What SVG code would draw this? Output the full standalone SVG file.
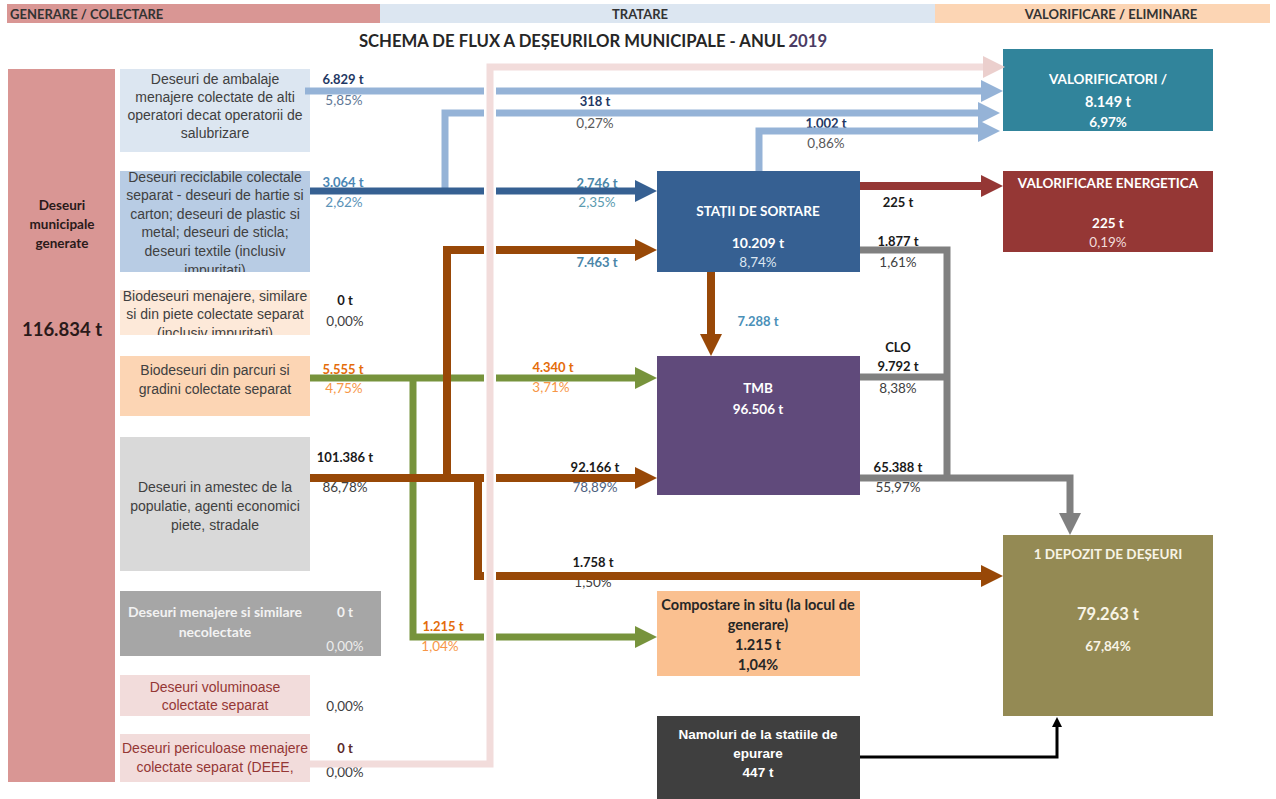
<svg xmlns="http://www.w3.org/2000/svg" width="1276" height="799" viewBox="0 0 1276 799">
  <style>
    .hdr { font-family: Lato, "Open Sans", sans-serif; font-weight: 700; font-size: 13px; fill: #333333; }
    .title { font-family: Lato, "Open Sans", sans-serif; font-weight: 700; font-size: 16.7px; fill: #262626; }
    .src { font-family: "Liberation Sans", Arial, sans-serif; font-size: 14px; fill: #404040; text-anchor: middle; }
    .srcR { font-family: "Liberation Sans", Arial, sans-serif; font-size: 14px; fill: #953735; text-anchor: middle; }
    .lb { font-family: Lato, "Open Sans", sans-serif; font-weight: 700; font-size: 13px; text-anchor: middle; fill: #1a1a1a; }
    .lp { font-family: Lato, "Open Sans", sans-serif; font-size: 13.5px; text-anchor: middle; fill: #404040; }
    .wb { font-family: Lato, "Open Sans", sans-serif; font-weight: 700; font-size: 13.5px; fill: #ffffff; text-anchor: middle; }
    .ar { font-family: "Liberation Sans", Arial, sans-serif; }
    .flow { fill: none; stroke-linejoin: miter; stroke-linecap: butt; }
    .lblue { stroke: #95B3D7; stroke-width: 7; }
    .dblue { stroke: #366092; stroke-width: 7; }
    .brown { stroke: #984807; stroke-width: 8; }
    .green { stroke: #77933C; stroke-width: 7; }
    .gray { stroke: #808080; stroke-width: 7; }
    .red { stroke: #953735; stroke-width: 8; }
    .pink { stroke: #F2DCDB; stroke-width: 7; }
    .halo { stroke: #ffffff; stroke-width: 12; }
  </style>
  <defs>
    <marker id="ahLBlue" markerUnits="userSpaceOnUse" viewBox="0 0 22 22" refX="1" refY="11" markerWidth="22" markerHeight="22" orient="auto"><path d="M0,0 L22,11 L0,22 z" fill="#95B3D7"/></marker>
    <marker id="ahPink" markerUnits="userSpaceOnUse" viewBox="0 0 22 22" refX="1" refY="11" markerWidth="22" markerHeight="22" orient="auto"><path d="M0,0 L22,11 L0,22 z" fill="#EBCFCD"/></marker>
    <marker id="ahDBlue" markerUnits="userSpaceOnUse" viewBox="0 0 22 22" refX="1" refY="11" markerWidth="22" markerHeight="22" orient="auto"><path d="M0,0 L22,11 L0,22 z" fill="#366092"/></marker>
    <marker id="ahBrown" markerUnits="userSpaceOnUse" viewBox="0 0 22 22" refX="1" refY="11" markerWidth="22" markerHeight="22" orient="auto"><path d="M0,0 L22,11 L0,22 z" fill="#984807"/></marker>
    <marker id="ahGreen" markerUnits="userSpaceOnUse" viewBox="0 0 22 22" refX="1" refY="11" markerWidth="22" markerHeight="22" orient="auto"><path d="M0,0 L22,11 L0,22 z" fill="#77933C"/></marker>
    <marker id="ahGray" markerUnits="userSpaceOnUse" viewBox="0 0 22 22" refX="1" refY="11" markerWidth="22" markerHeight="22" orient="auto"><path d="M0,0 L22,11 L0,22 z" fill="#808080"/></marker>
    <marker id="ahRed" markerUnits="userSpaceOnUse" viewBox="0 0 22 22" refX="1" refY="11" markerWidth="22" markerHeight="22" orient="auto"><path d="M0,0 L22,11 L0,22 z" fill="#953735"/></marker>
    <marker id="ahBlack" markerUnits="userSpaceOnUse" viewBox="0 0 10 10" refX="1" refY="5" markerWidth="10" markerHeight="10" orient="auto"><path d="M0,0 L10,5 L0,10 z" fill="#000000"/></marker>
    <clipPath id="clipRecycl"><rect x="120" y="171" width="190" height="101"/></clipPath>
    <clipPath id="clipBio"><rect x="120" y="290" width="190" height="45"/></clipPath>
  </defs>

  <rect width="1276" height="799" fill="#ffffff"/>

  <!-- column headers and title -->
  <g id="headers">
    <rect x="7" y="4" width="373" height="19" fill="#D99694"/>
    <rect x="380" y="4" width="555" height="19" fill="#DCE6F1"/>
    <rect x="935" y="4" width="335" height="19" fill="#FCD5B4"/>
    <text class="hdr" x="10" y="19">GENERARE / COLECTARE</text>
    <text class="hdr" x="640" y="19" text-anchor="middle">TRATARE</text>
    <text class="hdr" x="1111" y="19" text-anchor="middle">VALORIFICARE / ELIMINARE</text>
    <text class="title" x="593" y="47" text-anchor="middle">SCHEMA DE FLUX A DEȘEURILOR MUNICIPALE - ANUL <tspan style="fill:#4B3B63">2019</tspan></text>
  </g>

  <!-- total generated -->
  <g id="generated">
    <rect x="8" y="69" width="107" height="713" fill="#D99694"/>
    <text class="lb" x="62" y="210" style="font-size:13.5px;fill:#2a1a1a">Deseuri</text>
    <text class="lb" x="62" y="229" style="font-size:13.5px;fill:#2a1a1a">municipale</text>
    <text class="lb" x="62" y="248" style="font-size:13.5px;fill:#2a1a1a">generate</text>
    <text class="lb" x="62" y="336" style="font-size:18.5px;fill:#2a1a1a">116.834 t</text>
  </g>

  <!-- source streams -->
  <g id="src-ambalaje">
    <rect x="120" y="69" width="190" height="83" fill="#DCE6F1"/>
    <text class="src" x="215" y="84">Deseuri de ambalaje</text>
    <text class="src" x="215" y="102">menajere colectate de alti</text>
    <text class="src" x="215" y="120">operatori decat operatorii de</text>
    <text class="src" x="215" y="138">salubrizare</text>
    <text class="lb" x="343" y="84" style="fill:#1F3864">6.829 t</text>
    <text class="lp" x="344" y="105" style="fill:#5F7896">5,85%</text>
  </g>

  <g id="src-reciclabile">
    <rect x="120" y="171" width="190" height="101" fill="#B8CCE4"/>
    <g clip-path="url(#clipRecycl)">
      <text class="src" x="215" y="181.5">Deseuri reciclabile colectale</text>
      <text class="src" x="215" y="200">separat - deseuri de hartie si</text>
      <text class="src" x="215" y="218.5">carton; deseuri de plastic si</text>
      <text class="src" x="215" y="237">metal; deseuri de sticla;</text>
      <text class="src" x="215" y="255.5">deseuri textile (inclusiv</text>
      <text class="src" x="215" y="274.5">impuritati)</text>
    </g>
    <text class="lb" x="343" y="187" style="fill:#4A86B4">3.064 t</text>
    <text class="lp" x="344" y="207" style="fill:#5B93B8">2,62%</text>
  </g>

  <g id="src-biodeseuri">
    <rect x="120" y="290" width="190" height="45" fill="#FDE9D9"/>
    <g clip-path="url(#clipBio)">
      <text class="src" x="215" y="300.5">Biodeseuri menajere, similare</text>
      <text class="src" x="215" y="319">si din piete colectate separat</text>
      <text class="src" x="215" y="337.5">(inclusiv impuritati)</text>
    </g>
    <text class="lb" x="345" y="305">0 t</text>
    <text class="lp" x="345" y="326">0,00%</text>
  </g>

  <g id="src-parcuri">
    <rect x="120" y="356" width="190" height="60" fill="#FCD5B4"/>
    <text class="src" x="215" y="375">Biodeseuri din parcuri si</text>
    <text class="src" x="215" y="394">gradini colectate separat</text>
    <text class="lb" x="343" y="374" style="fill:#E46C0A">5.555 t</text>
    <text class="lp" x="344" y="393" style="fill:#F79646">4,75%</text>
  </g>

  <g id="src-amestec">
    <rect x="120" y="437" width="190" height="134" fill="#D9D9D9"/>
    <text class="src" x="215" y="492">Deseuri in amestec de la</text>
    <text class="src" x="215" y="511">populatie, agenti economici</text>
    <text class="src" x="215" y="530">piete, stradale</text>
    <text class="lb" x="345" y="462">101.386 t</text>
    <text class="lp" x="345" y="492">86,78%</text>
  </g>

  <g id="src-necolectate">
    <rect x="120" y="591" width="261" height="65" fill="#A6A6A6"/>
    <text class="wb" x="215" y="617" style="font-size:14px;fill:#F2F2F2">Deseuri menajere si similare</text>
    <text class="wb" x="215" y="637" style="font-size:14px;fill:#F2F2F2">necolectate</text>
    <text class="wb" x="345" y="617" style="fill:#F2F2F2">0 t</text>
    <text class="lp" x="345" y="651" style="fill:#EDEDED">0,00%</text>
  </g>

  <g id="src-voluminoase">
    <rect x="120" y="675" width="190" height="41" fill="#F2DCDB"/>
    <text class="srcR" x="215" y="692">Deseuri voluminoase</text>
    <text class="srcR" x="215" y="710">colectate separat</text>
    <text class="lp" x="345" y="711">0,00%</text>
  </g>

  <g id="src-periculoase">
    <rect x="120" y="734" width="190" height="48" fill="#F2DCDB"/>
    <text class="srcR" x="215" y="753">Deseuri periculoase menajere</text>
    <text class="srcR" x="215" y="772">colectate separat (DEEE,</text>
    <text class="lb" x="345" y="753" style="fill:#5A2A2A">0 t</text>
    <text class="lp" x="345" y="777">0,00%</text>
  </g>

  <!-- treatment nodes -->
  <g id="statii-sortare">
    <rect x="657" y="171" width="203" height="101" fill="#366092"/>
    <text class="wb" x="758" y="216">STAȚII DE SORTARE</text>
    <text class="wb" x="758" y="248" style="font-size:14px">10.209 t</text>
    <text class="lp" x="758" y="267" style="fill:#DCE6F1">8,74%</text>
  </g>

  <g id="tmb">
    <rect x="657" y="356" width="203" height="139" fill="#604A7B"/>
    <text class="wb" x="758" y="393">TMB</text>
    <text class="wb" x="758" y="414">96.506 t</text>
  </g>

  <g id="compostare">
    <rect x="657" y="591" width="203" height="85" fill="#FAC090"/>
    <text class="wb" x="758" y="610" style="font-size:14.5px;fill:#262626">Compostare in situ (la locul de</text>
    <text class="wb" x="758" y="630" style="font-size:14.5px;fill:#262626">generare)</text>
    <text class="wb" x="758" y="650" style="font-size:14.5px;fill:#262626">1.215 t</text>
    <text class="wb" x="758" y="670" style="font-size:14.5px;fill:#262626">1,04%</text>
  </g>

  <g id="namoluri">
    <rect x="657" y="716" width="203" height="83" fill="#3F3F3F"/>
    <text class="wb ar" x="758" y="739">Namoluri de la statiile de</text>
    <text class="wb ar" x="758" y="758">epurare</text>
    <text class="wb ar" x="758" y="777">447 t</text>
  </g>

  <!-- recovery / disposal nodes -->
  <g id="valorificatori">
    <rect x="1003" y="49" width="210" height="82" fill="#31849B"/>
    <text class="wb" x="1108" y="84">VALORIFICATORI /</text>
    <text class="wb" x="1108" y="107" style="font-size:14.5px">8.149 t</text>
    <text class="wb" x="1108" y="127">6,97%</text>
  </g>

  <g id="valorificare-energetica">
    <rect x="1003" y="171" width="210" height="81" fill="#953735"/>
    <text class="wb" x="1108" y="188">VALORIFICARE ENERGETICA</text>
    <text class="wb" x="1108" y="228">225 t</text>
    <text class="lp" x="1108" y="247" style="fill:#F2DCDB">0,19%</text>
  </g>

  <g id="depozit">
    <rect x="1003" y="535" width="210" height="181" fill="#948A54"/>
    <text class="wb" x="1108" y="559" style="fill:#F8F4E6">1 DEPOZIT DE DEȘEURI</text>
    <text class="wb" x="1108" y="620" style="font-size:16.5px;fill:#F8F4E6">79.263 t</text>
    <text class="wb" x="1108" y="651" style="fill:#F8F4E6">67,84%</text>
  </g>

  <!-- flow quantities -->
  <g id="flow-labels">
    <text class="lb" x="595" y="106" style="fill:#1F3864">318 t</text>
    <text class="lp" x="595" y="128" style="fill:#595959">0,27%</text>
    <text class="lb" x="826" y="128" style="fill:#1F3864">1.002 t</text>
    <text class="lp" x="826" y="148" style="fill:#595959">0,86%</text>
    <text class="lb" x="597" y="188" style="fill:#4A86A8">2.746 t</text>
    <text class="lp" x="597" y="207" style="fill:#5B9BB0">2,35%</text>
    <text class="lb" x="597" y="267" style="fill:#4A86A8">7.463 t</text>
    <text class="lb" x="758" y="326" style="fill:#4A90B8">7.288 t</text>
    <text class="lb" x="553" y="372" style="fill:#E46C0A">4.340 t</text>
    <text class="lp" x="551" y="392" style="fill:#F79646">3,71%</text>
    <text class="lb" x="595" y="472">92.166 t</text>
    <text class="lp" x="595" y="492" style="fill:#4F6280">78,89%</text>
    <text class="lb" x="593" y="567">1.758 t</text>
    <text class="lp" x="593" y="587">1,50%</text>
    <text class="lb" x="443" y="631" style="fill:#E46C0A">1.215 t</text>
    <text class="lp" x="440" y="651" style="fill:#F79646">1,04%</text>
    <text class="lb" x="898" y="207">225 t</text>
    <text class="lb" x="898" y="246">1.877 t</text>
    <text class="lp" x="898" y="267">1,61%</text>
    <text class="lb" x="898" y="352">CLO</text>
    <text class="lb" x="898" y="371">9.792 t</text>
    <text class="lp" x="898" y="393">8,38%</text>
    <text class="lb" x="898" y="472">65.388 t</text>
    <text class="lp" x="898" y="492">55,97%</text>
  </g>

  <!-- connectors -->
  <g id="connectors">
    <path class="flow lblue" d="M305,91 H982" marker-end="url(#ahLBlue)"/>
    <path class="flow lblue" d="M445,191 V113 H979" marker-end="url(#ahLBlue)"/>
    <path class="flow lblue" d="M759,171 V131 H979" marker-end="url(#ahLBlue)"/>
    <path class="flow dblue" d="M310,191 H636" marker-end="url(#ahDBlue)"/>
    <path class="flow red" d="M860,186 H982" marker-end="url(#ahRed)"/>
    <path class="flow green" d="M310,378 H636" marker-end="url(#ahGreen)"/>
    <path class="flow green" d="M413,378 V637 H636" marker-end="url(#ahGreen)"/>
    <path class="flow brown" d="M310,478 H636" marker-end="url(#ahBrown)"/>
    <path class="flow brown" d="M447,478 V250 H636" marker-end="url(#ahBrown)"/>
    <path class="flow brown" d="M478,478 V576 H982" marker-end="url(#ahBrown)"/>
    <path class="flow brown" d="M711,272 V335" marker-end="url(#ahBrown)"/>
    <path class="flow gray" d="M860,250 H947 V478"/>
    <path class="flow gray" d="M860,377 H947"/>
    <path class="flow gray" d="M860,478 H1070 V514" marker-end="url(#ahGray)"/>
    <path class="flow" d="M860,757 H1057 V726" stroke="#000000" stroke-width="3" marker-end="url(#ahBlack)"/>
    <path class="flow halo" d="M490,80 V750"/>
    <path class="flow pink" d="M310,764 H490 V67 H984" marker-end="url(#ahPink)"/>
  </g>
</svg>
